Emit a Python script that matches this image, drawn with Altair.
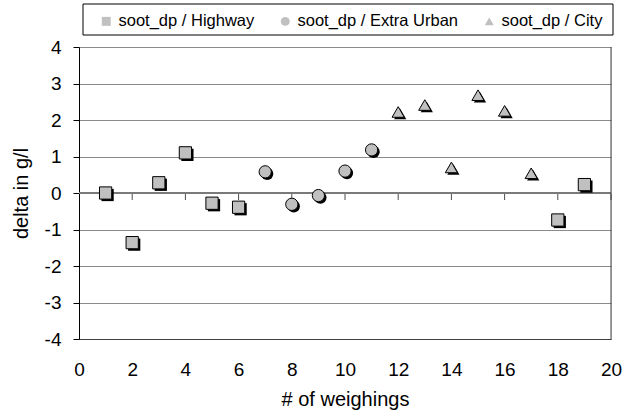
import altair as alt
import pandas as pd

# Weighing number, delta in g/l and driving cycle for each measurement
weighing = [1, 2, 3, 4, 5, 6, 7, 8, 9, 10, 11, 12, 13, 14, 15, 16, 17, 18, 19]
delta = [0.0, -1.36, 0.28, 1.10, -0.28, -0.39, 0.58, -0.31, -0.07, 0.60, 1.18,
         2.22, 2.41, 0.70, 2.68, 2.25, 0.54, -0.74, 0.23]
cycle = ["Highway"] * 6 + ["Extra Urban"] * 5 + ["City"] * 6 + ["Highway"] * 2

cycles = ["Highway", "Extra Urban", "City"]
series_names = ["soot_dp / " + c for c in cycles]
series_shapes = ["square", "circle", "triangle-up"]
series_sizes = [150, 150, 230]

x_ticks = [0, 2, 4, 6, 8, 10, 12, 14, 16, 18, 20]
y_ticks = [-4, -3, -2, -1, 0, 1, 2, 3, 4]

df = pd.DataFrame({
    "weighing": weighing,
    "delta": delta,
    "cycle": cycle,
    "series": ["soot_dp / " + c for c in cycle],
})

FONT = "Liberation Sans"
W, H = 532, 292

x_scale = alt.Scale(domain=[0, 20], nice=False, zero=False)
y_scale = alt.Scale(domain=[-4, 4], nice=False, zero=False)
size_scale = alt.Scale(domain=cycles, range=series_sizes)

x_axis = alt.Axis(values=x_ticks, title="# of weighings", grid=False,
                  ticks=False, tickSize=0, domain=True, domainColor="#404040",
                  labelFontSize=19, labelPadding=21, labelColor="black",
                  labelExpr="'' + datum.value", labelOverlap=False,
                  titleFontSize=20, titleFontWeight="normal", titleColor="black",
                  titleY=60, titleBaseline="middle", labelFlush=False)
y_axis = alt.Axis(values=y_ticks, title="delta in g/l", grid=True,
                  gridColor="#8a8a8a", gridWidth=1, domainColor="black",
                  tickColor="black", tickSize=6, labelFontSize=19,
                  labelPadding=12, labelColor="black",
                  labelExpr="'' + datum.value", labelOverlap=False,
                  titleFontSize=20, titleFontWeight="normal", titleColor="black",
                  titleX=-58, titleY=146, titleBaseline="middle",
                  titleAngle=270, labelFlush=False)


def xq(field):
    return alt.X(field, type="quantitative", scale=x_scale, axis=x_axis)


def yq(field):
    return alt.Y(field, type="quantitative", scale=y_scale, axis=y_axis)


legend = alt.Legend(
    title=None, orient="none", legendX=19, legendY=-34,
    direction="horizontal", symbolSize=80,
    symbolFillColor="#c0c0c0", symbolStrokeColor="black",
    symbolStrokeWidth=1, symbolOpacity=1,
    labelFontSize=16.5, labelFont=FONT, labelColor="black",
    labelOffset=4, columnPadding=22, padding=0, labelLimit=300, zindex=2,
)

# marker size keyed on the cycle column so it stays out of the shape legend
size_enc = alt.Size("cycle:N", scale=size_scale, legend=None)

base = alt.Chart(df)

# Drop shadow offset behind every marker (own shape scale, no legend)
shadow = base.mark_point(filled=True, color="black", opacity=1,
                         xOffset=2, yOffset=2).encode(
    x=xq("weighing"), y=yq("delta"),
    shape=alt.Shape("cycle:N",
                    scale=alt.Scale(domain=cycles, range=series_shapes),
                    legend=None),
    size=size_enc)

points = base.mark_point(filled=True, fill="#c0c0c0", stroke="black",
                         strokeWidth=1, opacity=1).encode(
    x=xq("weighing"), y=yq("delta"),
    shape=alt.Shape("series:N",
                    scale=alt.Scale(domain=series_names, range=series_shapes),
                    legend=legend),
    size=size_enc)

# Category axis crossing at zero, with its tick marks
zero_line = alt.Chart(pd.DataFrame({"y": [0]})).mark_rule(
    color="#7a7a7a", strokeWidth=2).encode(y=yq("y"))
zero_ticks = alt.Chart(pd.DataFrame({"x": x_ticks[1:], "y": [0] * 10})).mark_tick(
    orient="vertical", size=6, thickness=1, yOffset=4, color="black").encode(
    x=xq("x"), y=yq("y"))

# Right border of the plot area
right_edge = alt.Chart(pd.DataFrame({"x": [20]})).mark_rule(
    color="#404040", strokeWidth=1).encode(x=xq("x"))

# Frame around the legend
legend_box = alt.Chart(alt.Data(values=[{}])).mark_rect(
    fillOpacity=0, stroke="black", strokeWidth=1).encode(
    x=alt.value(4), x2=alt.value(534), y=alt.value(-43), y2=alt.value(-12))

chart = alt.layer(
    legend_box, zero_line, zero_ticks, right_edge, shadow, points
).resolve_scale(
    shape="independent"
).resolve_legend(
    shape="independent"
).properties(
    width=W, height=H,
    autosize=alt.AutoSizeParams(type="none"),
    padding={"left": 79, "top": 47, "right": 25, "bottom": 71},
).configure_view(
    stroke=None
).configure(
    font=FONT, background="white"
)

chart.save("out.html", embed_options={"renderer": "svg", "actions": False})
